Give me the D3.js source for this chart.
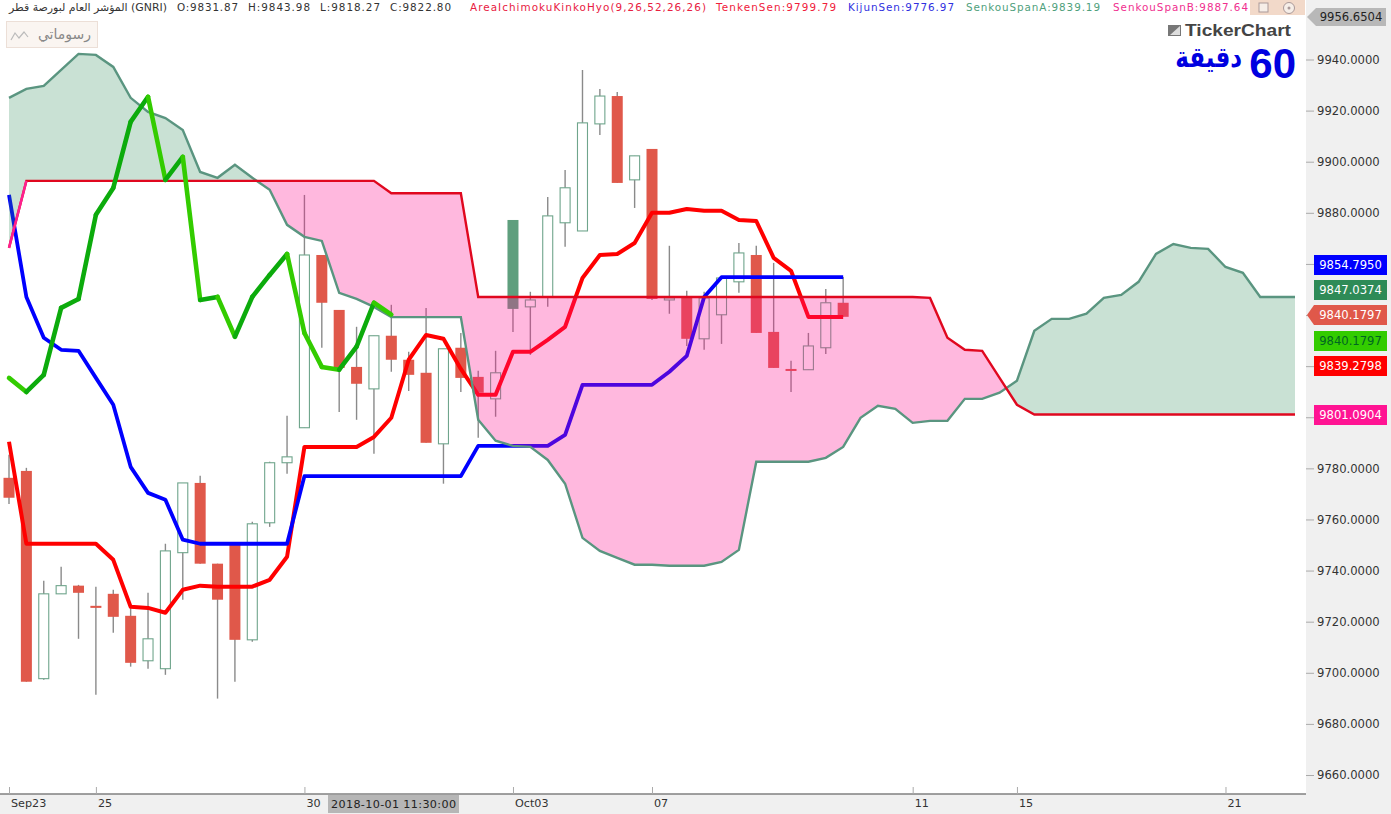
<!DOCTYPE html>
<html><head><meta charset="utf-8">
<script src="https://cdn.jsdelivr.net/npm/d3@7"></script>
<style>html,body{margin:0;padding:0;background:#fff;overflow:hidden}svg{display:block}text{font-family:"DejaVu Sans",sans-serif}</style>
</head><body><svg id="c" width="1391" height="814"></svg>
<script>
const opens=[9776.3,9779.0,9697.7,9730.9,9734.1,9726.2,9730.9,9722.3,9704.7,9701.6,9747.0,9774.3,9742.7,9750.1,9712.9,9758.7,9782.2,9795.9,9863.5,9842.0,9819.7,9811.1,9831.9,9822.5,9817.4,9789.6,9827.2,9815.8,9807.2,9842.4,9843.2,9847.1,9876.1,9872.9,9914.8,9925.7,9892.9,9905.0,9845.9,9846.7,9830.7,9840.1,9853.0,9863.5,9833.4,9818.9,9818.6,9827.2,9844.8];
const highs=[9785.3,9780.2,9736.0,9741.5,9734.4,9733.7,9732.5,9725.8,9731.3,9750.5,9774.3,9777.1,9742.7,9750.1,9759.1,9782.6,9800.6,9887.0,9863.5,9842.0,9835.4,9831.9,9844.0,9825.6,9842.8,9826.8,9833.0,9818.2,9826.0,9877.2,9849.1,9886.2,9896.8,9935.9,9928.5,9927.3,9902.3,9905.0,9867.1,9849.5,9849.1,9854.5,9868.2,9867.1,9860.4,9822.1,9833.0,9850.2,9854.9];
const lows=[9766.1,9696.5,9697.3,9730.9,9713.3,9691.4,9715.7,9702.4,9701.6,9699.2,9728.6,9742.7,9689.9,9696.5,9712.1,9757.1,9777.9,9795.9,9827.2,9802.1,9799.0,9785.7,9817.8,9810.3,9790.0,9774.0,9809.9,9792.0,9800.2,9833.4,9824.4,9843.2,9866.7,9872.9,9910.5,9891.7,9881.9,9845.9,9840.5,9827.9,9826.4,9828.7,9848.7,9833.0,9819.3,9809.9,9818.6,9824.8,9839.3];
const closes=[9768.5,9696.5,9730.9,9734.1,9731.3,9725.4,9721.9,9703.9,9713.3,9747.7,9774.3,9742.7,9728.6,9712.9,9758.3,9782.2,9784.5,9863.5,9844.8,9819.3,9813.1,9831.9,9822.5,9816.6,9790.0,9826.8,9815.4,9809.6,9817.4,9877.2,9845.9,9878.8,9889.8,9915.2,9925.7,9891.7,9902.3,9846.3,9846.7,9830.7,9846.7,9854.5,9864.3,9833.0,9819.3,9818.2,9827.9,9844.8,9839.3];
const tenkan=[9790.4,9750.5,9750.5,9750.5,9750.5,9750.5,9744.2,9725.8,9725.4,9723.5,9732.5,9734.1,9733.7,9733.7,9733.7,9736.4,9745.4,9788.4,9788.4,9788.4,9788.4,9792.3,9799.8,9822.5,9832.2,9830.7,9818.9,9808.8,9808.8,9825.6,9825.6,9830.3,9835.4,9854.5,9863.5,9863.9,9868.2,9880.0,9880.0,9881.5,9880.8,9880.8,9877.2,9876.8,9862.4,9857.3,9839.28,9839.28,9839.28];
const kijun=[9887.0,9847.04,9831.1,9826.4,9826.0,9815.4,9804.9,9780.6,9770.4,9767.7,9752.1,9750.5,9750.5,9750.5,9750.5,9750.5,9750.5,9776.97,9776.97,9776.97,9776.97,9776.97,9776.97,9776.97,9776.97,9776.97,9776.97,9788.8,9788.8,9788.8,9788.8,9788.8,9793.1,9812.7,9812.7,9812.7,9812.7,9812.7,9817.8,9824.0,9847.04,9854.8,9854.8,9854.8,9854.8,9854.8,9854.8,9854.8,9854.8];
const chikou=[9815.4,9809.9,9816.6,9842.8,9846.3,9879.2,9889.7,9915.6,9925.4,9892.9,9901.9,9845.9,9847.1,9831.5,9847.1,9855.7,9863.9,9833.0,9819.7,9818.6,9827.6,9844.8,9840.18];
const spanA=[9925.0,9928.5,9929.7,9935.9,9942.2,9941.8,9937.1,9925.0,9919.5,9917.1,9912.4,9896.0,9893.7,9898.8,9893.7,9889.0,9875.3,9870.6,9869.0,9848.7,9846.3,9843.2,9839.19,9839.19,9839.19,9839.19,9839.19,9799.0,9790.8,9788.8,9788.4,9783.3,9774.0,9752.8,9747.7,9745.0,9742.3,9742.3,9741.9,9741.9,9741.9,9743.4,9748.1,9782.6,9782.6,9782.6,9782.6,9784.1,9788.4,9799.8,9804.5,9803.3,9797.8,9798.6,9798.6,9807.2,9807.2,9809.6,9814.3,9833.8,9838.5,9838.5,9840.5,9846.7,9847.9,9853.0,9863.9,9867.8,9866.3,9865.9,9858.8,9856.5,9847.04,9847.04,9847.04];
const spanB=[9866.3,9892.5,9892.5,9892.5,9892.5,9892.5,9892.5,9892.5,9892.5,9892.5,9892.5,9892.5,9892.5,9892.5,9892.5,9892.5,9892.5,9892.5,9892.5,9892.5,9892.5,9892.5,9887.64,9887.64,9887.64,9887.64,9887.64,9847.04,9847.04,9847.04,9847.04,9847.04,9847.04,9847.04,9847.04,9847.04,9847.04,9847.04,9847.04,9847.04,9847.04,9847.04,9847.04,9847.04,9847.04,9847.04,9847.04,9847.04,9847.04,9847.04,9847.04,9847.04,9847.04,9846.7,9831.1,9826.4,9826.0,9815.4,9804.9,9801.09,9801.09,9801.09,9801.09,9801.09,9801.09,9801.09,9801.09,9801.09,9801.09,9801.09,9801.09,9801.09,9801.09,9801.09,9801.09];
const filledGreenCandle=29;
const yTicks=[9660,9680,9700,9720,9740,9760,9780,9800,9820,9840,9860,9880,9900,9920,9940];
const xTickIdx=[0,5,17,29,37,52,58,70];
const xTickLabels=["Sep23","25","30","Oct03","07","11","15","21"];
const priceTags=["9956.6504","9854.7950","9847.0374","9840.1797","9840.1797","9839.2798","9801.0904"];
const tagColors=["#b8b8b8","#0000ff","#2e8b57","#e0584a","#33cc00","#ff0000","#ff1493"];
const tagText=["#222","#fff","#fff","#fff","#062","#fff","#fff"];
const headerTexts=["O:9831.87","H:9843.98","L:9818.27","C:9822.80","AreaIchimokuKinkoHyo(9,26,52,26,26)","TenkenSen:9799.79","KijunSen:9776.97","SenkouSpanA:9839.19","SenkouSpanB:9887.64"];
const headerColors=["#333","#333","#333","#333","#e8203f","#f0203a","#3030e0","#4f9f7c","#f0308f"];

const svg=d3.select("#c");
const W=1306,H=794;
const x=d3.scaleLinear().domain([0,74]).range([9,1295]);
const y=d3.scaleLinear().domain([9660,9940]).range([775,59.5]);
const idx=d3.range(49);

svg.append("rect").attr("width",1391).attr("height",814).attr("fill","#fff");

// candles
const RED="#e0584a",GRN="#6fa58c",WICK="#8a8a8a",FILLG="#5f9f7e";
const cg=svg.append("g");
cg.selectAll("line").data(idx).join("line")
 .attr("x1",i=>x(i)).attr("x2",i=>x(i)).attr("y1",i=>y(highs[i])).attr("y2",i=>y(lows[i]))
 .attr("stroke",WICK).attr("stroke-width",1.4);
cg.selectAll("rect").data(idx).join("rect")
 .attr("x",i=>closes[i]>=opens[i]&&i!==filledGreenCandle?x(i)-5:x(i)-5.5)
 .attr("width",i=>closes[i]>=opens[i]&&i!==filledGreenCandle?10:11)
 .attr("y",i=>y(Math.max(opens[i],closes[i])))
 .attr("height",i=>Math.max(2,Math.abs(y(opens[i])-y(closes[i]))))
 .attr("fill",i=>i===filledGreenCandle?FILLG:closes[i]>=opens[i]?"#fff":RED)
 .attr("stroke",i=>i!==filledGreenCandle&&closes[i]>=opens[i]?GRN:"none")
 .attr("stroke-width",1.1);

const lineGen=d3.line().x((d,i)=>x(i)).y(d=>y(d));
svg.append("path").attr("d",lineGen(tenkan)).attr("fill","none").attr("stroke","#ff0000").attr("stroke-width",4).attr("stroke-linejoin","round");
svg.append("path").attr("d",lineGen(kijun)).attr("fill","none").attr("stroke","#0000ff").attr("stroke-width",3.8).attr("stroke-linejoin","round");

// cloud (difference chart)
const defs=svg.append("defs");
const idx75=d3.range(75);
defs.append("clipPath").attr("id","belowA").append("path")
 .attr("d",d3.area().x(i=>x(i)).y0(H).y1(i=>y(spanA[i]))(idx75));
defs.append("clipPath").attr("id","aboveA").append("path")
 .attr("d",d3.area().x(i=>x(i)).y0(0).y1(i=>y(spanA[i]))(idx75));
svg.append("path").attr("clip-path","url(#aboveA)")
 .attr("d",d3.area().x(i=>x(i)).y0(H).y1(i=>y(spanB[i]))(idx75))
 .attr("fill","#ff1493").attr("fill-opacity",.3);
svg.append("path").attr("clip-path","url(#belowA)")
 .attr("d",d3.area().x(i=>x(i)).y0(0).y1(i=>y(spanB[i]))(idx75))
 .attr("fill","#2e8b57").attr("fill-opacity",.26);
svg.append("path").attr("d",lineGen(spanA)).attr("fill","none").attr("stroke","#5a9580").attr("stroke-width",2.4);
svg.append("path").attr("d",lineGen(spanB)).attr("fill","none").attr("stroke","#e0081f").attr("stroke-width",2.4);
svg.append("path").attr("d",lineGen(spanB.slice(0,2))).attr("fill","none").attr("stroke","#ff1f8f").attr("stroke-width",2.4);

// chikou: colour follows direction, drawn over the cloud
const cgl=svg.append("g").attr("fill","none").attr("stroke-linecap","round");
d3.pairs(chikou).forEach(([a,b],i)=>{
  cgl.append("line").attr("x1",x(i)).attr("y1",y(a)).attr("x2",x(i+1)).attr("y2",y(b))
   .attr("stroke",b>=a?"#0cab0c":"#33cc00").attr("stroke-width",4.6);
});

// panels
svg.append("rect").attr("x",W).attr("y",0).attr("width",85).attr("height",814).attr("fill","#f0f0f0");
svg.append("rect").attr("x",0).attr("y",H).attr("width",W).attr("height",20).attr("fill","#f0f0f0");
svg.append("line").attr("x1",0).attr("x2",W).attr("y1",H).attr("y2",H).attr("stroke","#808080").attr("stroke-width",1.5);

// y axis
const ya=svg.append("g").attr("transform",`translate(${W},0)`).call(d3.axisRight(y).tickValues(yTicks).tickSize(8).tickPadding(3).tickFormat(d3.format(".4f")));
ya.select(".domain").remove();
ya.selectAll("line").attr("stroke","#aaa");
ya.selectAll("text").attr("font-size",11.6).attr("fill","#333").attr("font-family","DejaVu Sans");

// x axis
const xa=svg.append("g").attr("transform",`translate(0,${H})`).call(d3.axisTop(x).tickValues(xTickIdx).tickSize(7).tickFormat(""));
xa.select(".domain").remove();
xa.selectAll("line").attr("stroke","#aaa");
xTickIdx.forEach((d,i)=>{
  svg.append("text").attr("x",x(d)+2).attr("y",807).attr("font-size",11.2).attr("fill","#333").text(xTickLabels[i]);
});
svg.append("rect").attr("x",328).attr("y",795).attr("width",131).attr("height",18).attr("fill","#b6b6b6");
svg.append("text").attr("x",393.5).attr("y",808).attr("text-anchor","middle").attr("font-size",11.2).attr("fill","#222").attr("textLength",125).text("2018-10-01 11:30:00");

// price tags
const tagBox=[[1316,8,70,18,1],[1314,255,73,20,0],[1314,280,73,20,0],[1314,305,73,20,1],[1314,331,73,20,0],[1314,356,73,20,0],[1314,405,73,20,0]];
priceTags.forEach((t,i)=>{
  const [bx,by,bw,bh,arrow]=tagBox[i];
  const g=svg.append("g");
  const p=d3.path();
  p.moveTo(bx,by);p.lineTo(bx+bw,by);p.lineTo(bx+bw,by+bh);p.lineTo(bx,by+bh);
  if(arrow)p.lineTo(1307,by+bh/2);
  p.closePath();
  g.append("path").attr("d",p.toString()).attr("fill",tagColors[i]);
  g.append("text").attr("x",bx+bw/2).attr("y",by+bh/2+4.2).attr("text-anchor","middle").attr("font-size",11.6).attr("fill",tagText[i]).text(t);
});

// header
svg.append("text").attr("x",9).attr("y",11).attr("font-size",10.6).attr("fill","#333").attr("textLength",158).attr("lengthAdjust","spacingAndGlyphs").text("المؤشر العام لبورصة قطر (GNRI)");
const hx=[177,248,320,390,470,716,848,966,1113],hw=[61,62,60,61,236,120,106,134,135];
headerTexts.forEach((t,i)=>{
  svg.append("text").attr("x",hx[i]).attr("y",11).attr("font-size",10.4).attr("fill",headerColors[i]).attr("textLength",hw[i]).text(t);
});
// window buttons
svg.append("rect").attr("x",1250).attr("y",0).attr("width",55).attr("height",15).attr("fill","#f2d9c9");
svg.append("rect").attr("x",1259).attr("y",3).attr("width",9).attr("height",9).attr("fill","#f6eee8").attr("stroke","#a99");
svg.append("circle").attr("cx",1289).attr("cy",8).attr("r",5.5).attr("fill","#f6eee8").attr("stroke","#a99");
svg.append("circle").attr("cx",1289).attr("cy",8).attr("r",1.5).attr("fill","#a99");

// my drawings box
svg.append("rect").attr("x",6.5).attr("y",21.5).attr("width",91).attr("height",26).attr("fill","#faf5f1").attr("stroke","#ecdfd7");
svg.append("path").attr("d","M11 40L15 33L19 38L24 32L28 37").attr("fill","none").attr("stroke","#bbb").attr("stroke-width",1.2);
svg.append("text").attr("x",91).attr("y",39).attr("text-anchor","end").attr("font-size",14).attr("fill","#888").text("رسوماتي");

// logo
svg.append("rect").attr("x",1168).attr("y",25).attr("width",13).attr("height",11).attr("fill","#777");
svg.append("path").attr("d","M1170 35L1180 26L1180 35Z").attr("fill","#ddd");
svg.append("text").attr("x",1185).attr("y",36).attr("font-size",17).attr("font-weight",700).attr("fill","#444").style("font-family","Liberation Sans").attr("textLength",106).attr("lengthAdjust","spacingAndGlyphs").text("TickerChart");
svg.append("text").attr("x",1296).attr("y",78).attr("text-anchor","end").attr("font-size",42).attr("font-weight",700).attr("fill","#0000e0").style("font-family","Liberation Sans").text("60");
svg.append("text").attr("transform","translate(1242,67) scale(1,1.25)").attr("text-anchor","end").attr("font-size",23).attr("font-weight",700).attr("fill","#0000e0").text("دقيقة");
</script></body></html>
